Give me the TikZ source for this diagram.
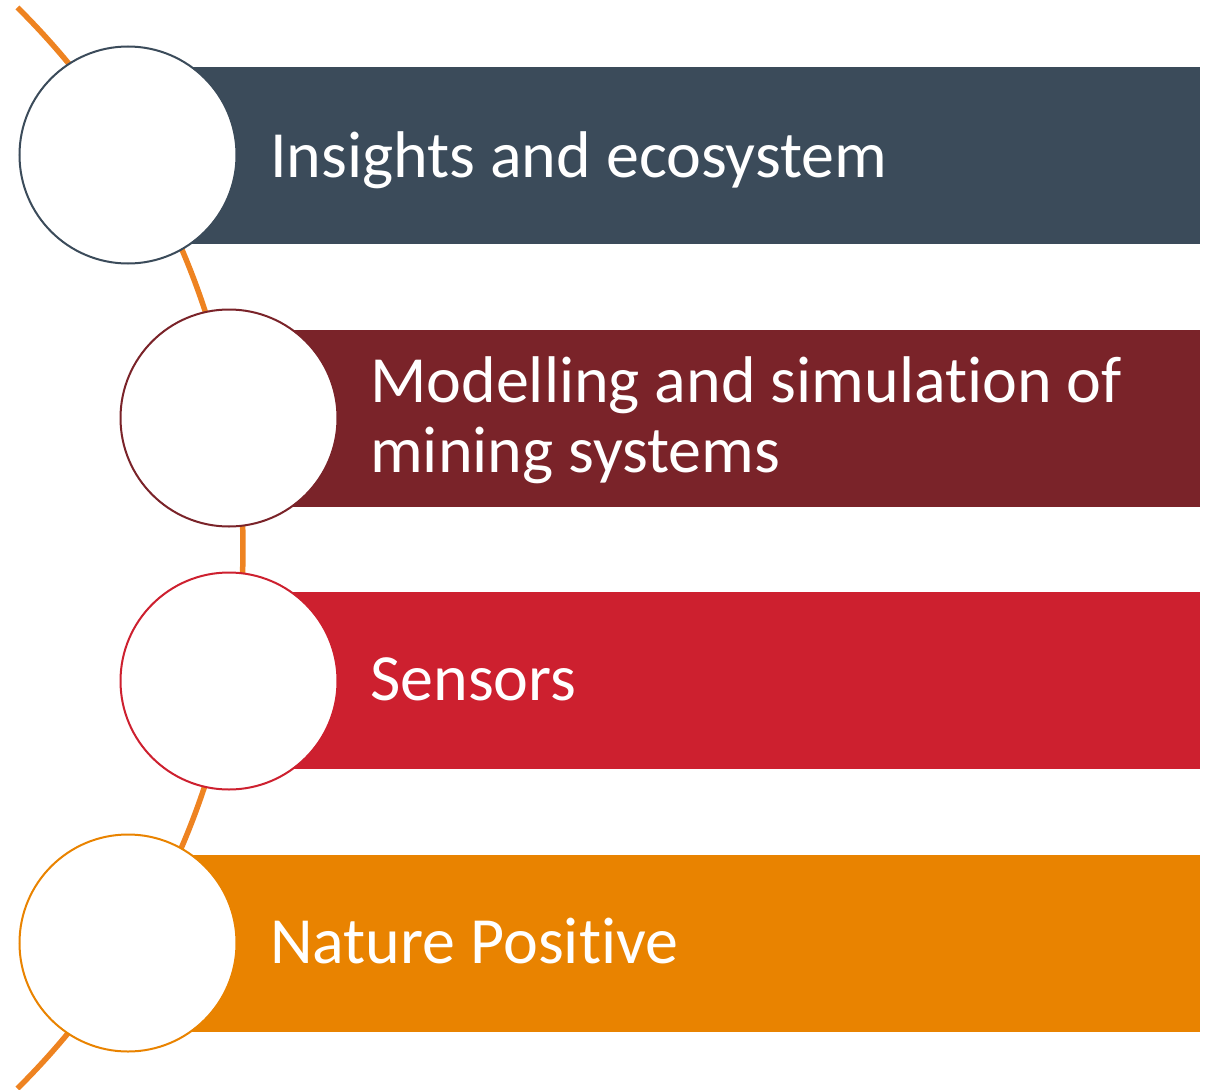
\documentclass[tikz,border=0pt]{standalone}
\usepackage{fontspec}
\setmainfont{Carlito}[RawFeature={-liga;-dlig;-clig}]
\definecolor{cA}{HTML}{3B4B5A}
\definecolor{cB}{HTML}{7A2329}
\definecolor{cC}{HTML}{CD202F}
\definecolor{cD}{HTML}{E98300}
\definecolor{arcc}{HTML}{EE8321}
\begin{document}
\begin{tikzpicture}[x=1pt,y=-1pt,
  bar/.style={rectangle, inner sep=0pt, minimum width=1010pt, minimum height=177pt, anchor=east},
  ring/.style={circle, draw, fill=white, line width=2pt, inner sep=0pt, minimum size=217pt},
  lbl/.style={text=white, anchor=base west, inner sep=0pt, align=left,
    font=\fontsize{66}{70}\selectfont}]
\useasboundingbox (0,0) rectangle (1217,1089);
% timeline arc
\draw[arcc, line width=5.5pt] (-517.5,548) ++(-45.3:760.5) arc[start angle=-45.3, end angle=45.3, radius=760.5];
% bars
\node[bar, fill=cA] (b1) at (1200,155.5) {};
\node[bar, fill=cB, minimum width=910pt] (b2) at (1200,418) {};
\node[bar, fill=cC, minimum width=910pt] (b3) at (1200,680.5) {};
\node[bar, fill=cD] (b4) at (1200,943.5) {};
% circles
\node[ring, draw=cA] (c1) at (128,155) {};
\node[ring, draw=cB] (c2) at (229,418) {};
\node[ring, draw=cC] (c3) at (229,681) {};
\node[ring, draw=cD] (c4) at (128,943) {};
% labels
\node[lbl] (t1) at (270,177) {Insights and ecosystem};
\node[lbl] (t2) at (370,472) {Modelling and simulation of\\mining systems};
\node[lbl] (t3) at (370,700) {Sensors};
\node[lbl] (t4) at (270,963) {Nature Positive};
\end{tikzpicture}
\end{document}
